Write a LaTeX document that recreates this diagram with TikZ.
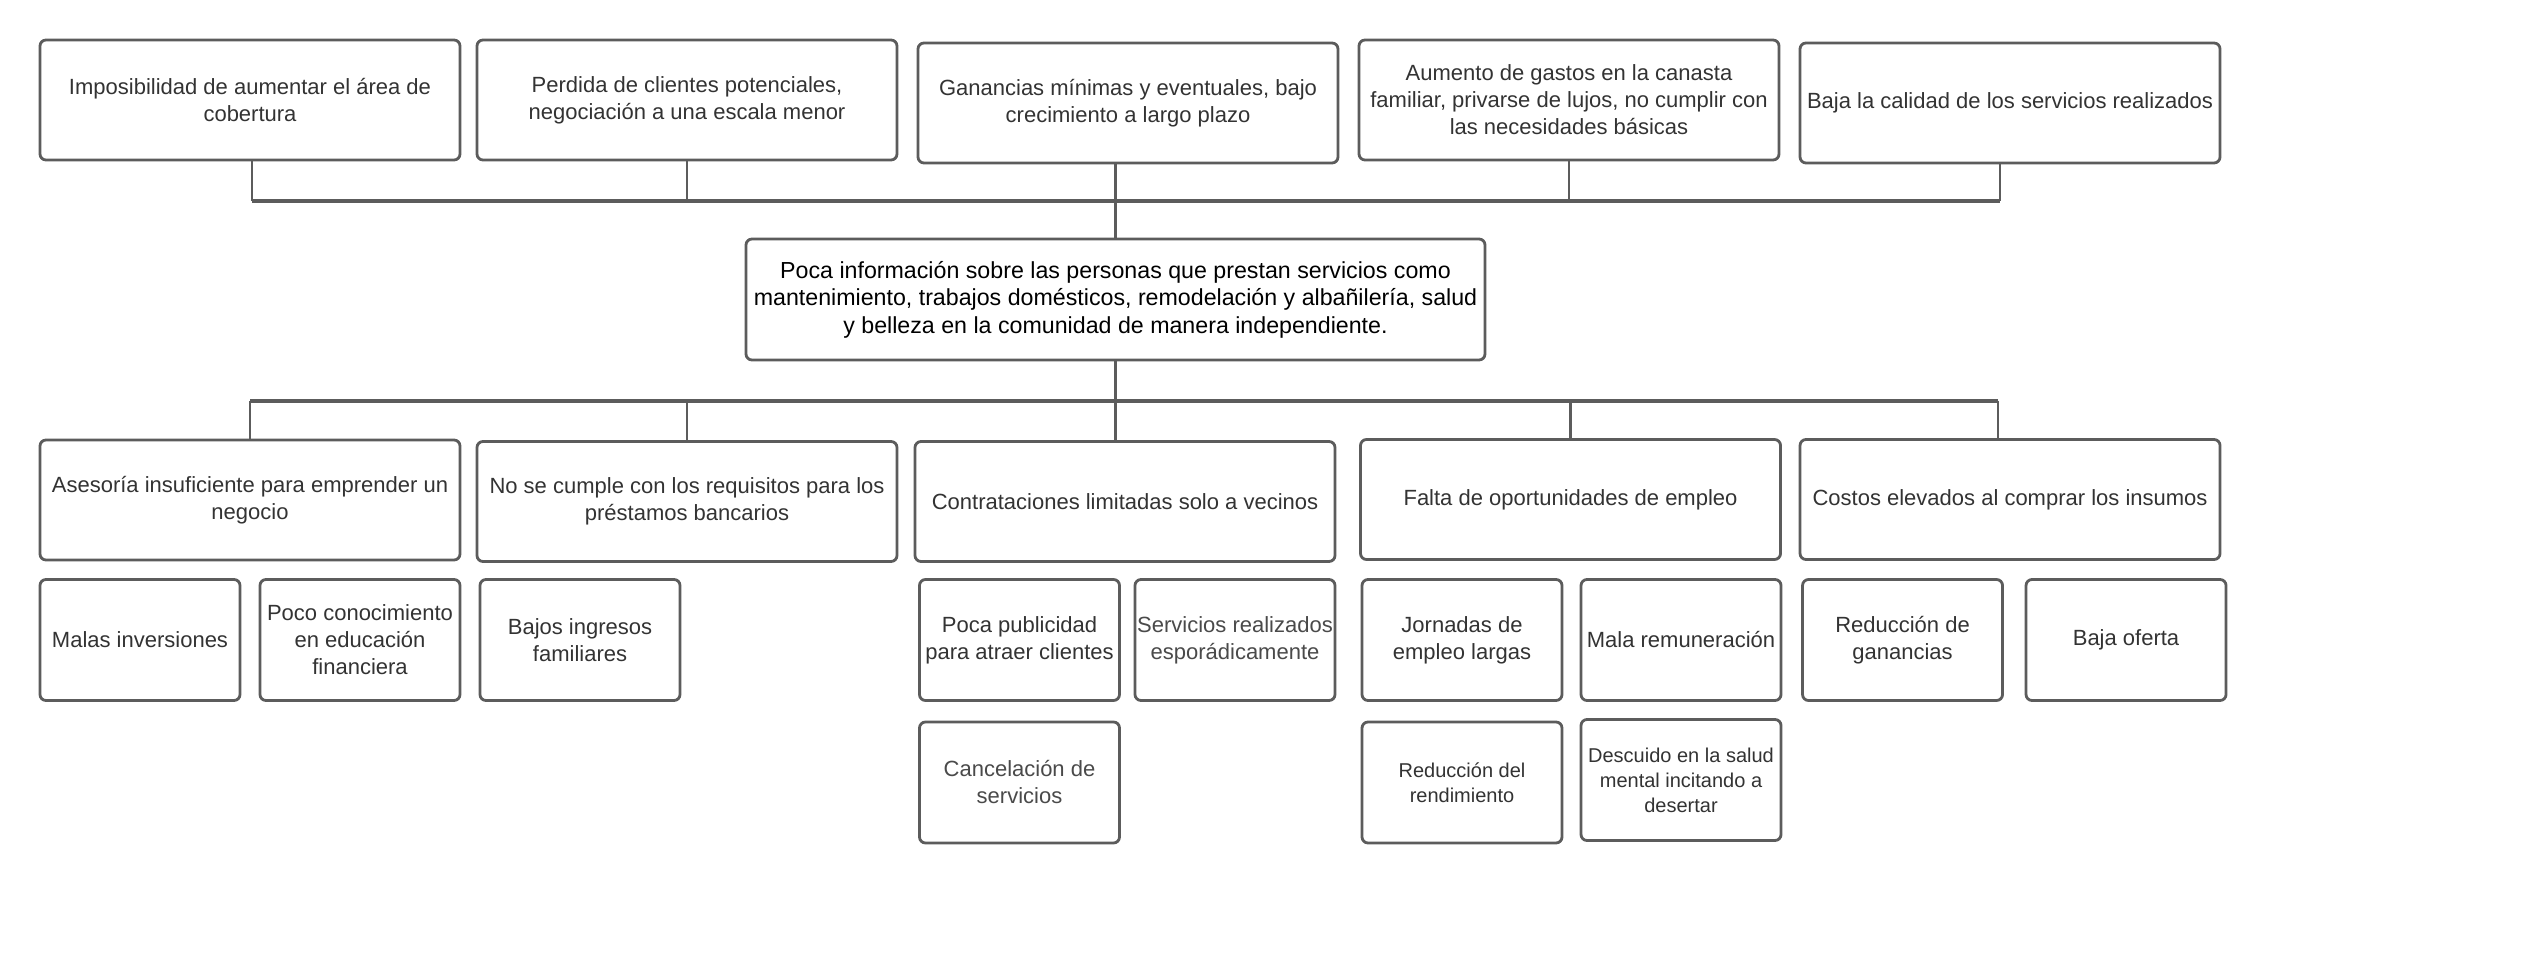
\documentclass[tikz,border=0pt]{standalone}
\usepackage{fontspec}
\setmainfont{Liberation Sans}
\definecolor{boxgray}{HTML}{5C5C5C}
\definecolor{textgray}{HTML}{333333}
\definecolor{lightgray}{HTML}{4A4A4A}
\tikzset{
  box/.style={draw=boxgray, line width=1.4pt, rounded corners=3pt, align=center,
    font=\fontsize{11}{13.5}\selectfont, text=textgray, inner sep=1pt, fill=white},
  bigbox/.style={box, minimum width=210pt, minimum height=60pt},
  smallbox/.style={box, minimum width=100pt, minimum height=60.5pt},
  conn/.style={draw=boxgray, line width=1.1pt},
  bus/.style={draw=boxgray, line width=1.6pt}
}
\begin{document}
\begin{tikzpicture}[x=0.5pt,y=-0.5pt]
\useasboundingbox (0,0) rectangle (2525,967);
% top row
\node[bigbox] (t1) at (250,100) {Imposibilidad de aumentar el área de\\cobertura};
\node[bigbox] (t2) at (687,100) {Perdida de clientes potenciales,\\negociación a una escala menor};
\node[bigbox] (t3) at (1128,103) {Ganancias mínimas y eventuales, bajo\\crecimiento a largo plazo};
\node[bigbox] (t4) at (1569,100) {Aumento de gastos en la canasta\\familiar, privarse de lujos, no cumplir con\\las necesidades básicas};
\node[bigbox] (t5) at (2010,103) {Baja la calidad de los servicios realizados};
% central
\node[box, text=black, font=\fontsize{11.6}{13.8}\selectfont, minimum width=369.5pt, minimum height=60.5pt] (cen) at (1115.5,299.5)
  {Poca información sobre las personas que prestan servicios como\\mantenimiento, trabajos domésticos, remodelación y albañilería, salud\\y belleza en la comunidad de manera independiente.};
% second row
\node[bigbox] (A) at (250,500) {Asesoría insuficiente para emprender un\\negocio};
\node[bigbox] (B) at (687,501.5) {No se cumple con los requisitos para los\\préstamos bancarios};
\node[bigbox] (C) at (1125,501.5) {Contrataciones limitadas solo a vecinos};
\node[bigbox] (D) at (1570.5,499.5) {Falta de oportunidades de empleo};
\node[bigbox] (E) at (2010,499.5) {Costos elevados al comprar los insumos};
% third row
\node[smallbox] (a1) at (140,640) {Malas inversiones};
\node[smallbox] (a2) at (360,640) {Poco conocimiento\\en educación\\financiera};
\node[smallbox] (b1) at (580,640) {Bajos ingresos\\familiares};
\node[smallbox] (c1) at (1019.5,640) {Poca publicidad\\para atraer clientes};
\node[smallbox, text=lightgray] (c2) at (1235,640) {Servicios realizados\\esporádicamente};
\node[smallbox] (d1) at (1462,640) {Jornadas de\\empleo largas};
\node[smallbox] (d2) at (1681,640) {Mala remuneración};
\node[smallbox] (e1) at (1902.5,640) {Reducción de\\ganancias};
\node[smallbox] (e2) at (2126,640) {Baja oferta};
% fourth row
\node[smallbox, text=lightgray] (c3) at (1019.5,782.5) {Cancelación de\\servicios};
\node[smallbox, font=\fontsize{10}{12.5}\selectfont] (d3) at (1462,782.5) {Reducción del\\rendimiento};
\node[smallbox, font=\fontsize{10}{12.5}\selectfont] (d4) at (1681,780) {Descuido en la salud\\mental incitando a\\desertar};
% top connectors
\coordinate (tbL) at (252,201);
\coordinate (tbR) at (2000,201);
\draw[bus] (tbL) -- (tbR);
\draw[conn] (t1.south -| tbL) -- (tbL);
\draw[conn] (t2.south) -- (t2.south |- tbL);
\draw[conn] (t3.south -| cen.north) -- (cen.north);
\draw[conn] (t4.south) -- (t4.south |- tbL);
\draw[conn] (t5.south -| tbR) -- (tbR);
% bottom connectors
\coordinate (bbL) at (250,401);
\coordinate (bbR) at (1998,401);
\draw[bus] (bbL) -- (bbR);
\draw[conn] (bbL) -- (A.north -| bbL);
\draw[conn] (B.north |- bbL) -- (B.north);
\draw[conn] (cen.south) -- (cen.south |- C.north);
\draw[conn] (D.north |- bbL) -- (D.north);
\draw[conn] (bbR) -- (bbR |- E.north);
\end{tikzpicture}
\end{document}
